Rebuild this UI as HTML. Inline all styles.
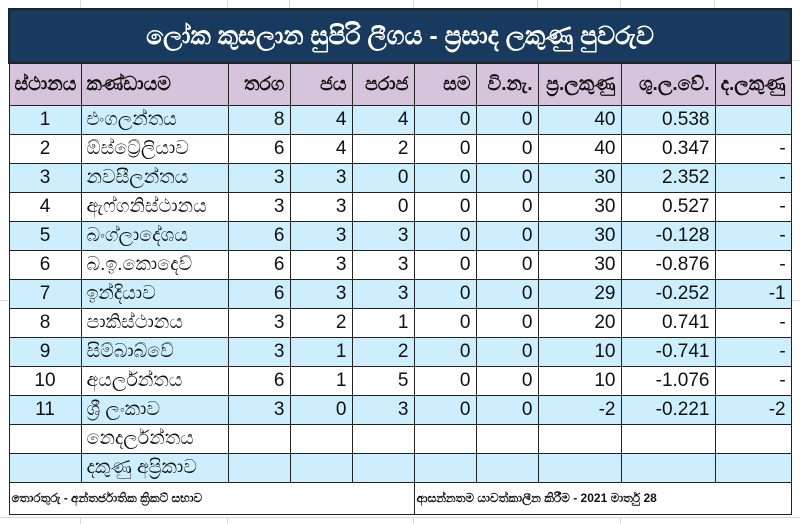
<!DOCTYPE html>
<html><head><meta charset="utf-8"><style>
body{margin:0;width:800px;height:524px;background:#fff;position:relative;overflow:hidden;font-family:"Liberation Sans",sans-serif;}
.g{position:absolute;background:#d9d9d9;}
table{position:absolute;left:8px;top:8px;width:782px;border-collapse:collapse;table-layout:fixed;}
td{border:1px solid #222;padding:0 5px;font-size:19px;color:#111;white-space:nowrap;overflow:hidden;height:28px;}
.t td{background:#183a5e;color:#fff;text-align:center;font-weight:bold;font-size:25px;height:52px;border:2px solid #222;}
.h td{background:#d6c4dc;height:41px;text-align:right;font-weight:bold;}
.b td{background:#cdeefc;}
td.c{text-align:center}
td.r{text-align:right}
td.l{text-align:left}
.f td{height:31px;font-size:12px;font-weight:bold;padding-left:2px;}
</style></head><body>
<div class="g" style="left:80px;top:0;width:1px;height:8px"></div>
<div class="g" style="left:227px;top:0;width:1px;height:8px"></div>
<div class="g" style="left:289px;top:0;width:1px;height:8px"></div>
<div class="g" style="left:413px;top:0;width:1px;height:8px"></div>
<div class="g" style="left:537px;top:0;width:1px;height:8px"></div>
<div class="g" style="left:620px;top:0;width:1px;height:8px"></div>
<div class="g" style="left:714px;top:0;width:1px;height:8px"></div>
<div class="g" style="left:0;top:517px;width:800px;height:1px"></div>
<div class="g" style="left:80px;top:517px;width:1px;height:7px"></div>
<div class="g" style="left:227px;top:517px;width:1px;height:7px"></div>
<div class="g" style="left:413px;top:517px;width:1px;height:7px"></div>
<div class="g" style="left:620px;top:517px;width:1px;height:7px"></div>
<div class="g" style="left:790px;top:60px;width:10px;height:1px"></div>
<div class="g" style="left:790px;top:300px;width:10px;height:1px"></div>
<div class="g" style="left:0;top:300px;width:8px;height:1px"></div>
<table>
<colgroup><col style="width:72px"><col style="width:147px"><col style="width:62px"><col style="width:62px"><col style="width:62px"><col style="width:62px"><col style="width:62px"><col style="width:83px"><col style="width:94px"><col style="width:76px"></colgroup>
<tr class="t"><td colspan="10">ලෝක කුසලාන සුපිරි ලීගය - ප්‍රසාද ලකුණු පුවරුව</td></tr>
<tr class="h"><td class="c">ස්ථානය</td><td class="l">කණ්ඩායම</td><td>තරග</td><td>ජය</td><td>පරාජ</td><td>සම</td><td>වි.නැ.</td><td>ප්‍ර.ලකුණු</td><td>ශු.ල.වේ.</td><td class="c">ද.ලකුණු</td></tr>
<tr class="b"><td class="c">1</td><td>එංගලන්තය</td><td class="r">8</td><td class="r">4</td><td class="r">4</td><td class="r">0</td><td class="r">0</td><td class="r">40</td><td class="r">0.538</td><td class="c"></td></tr>
<tr><td class="c">2</td><td>ඕස්ට්‍රේලියාව</td><td class="r">6</td><td class="r">4</td><td class="r">2</td><td class="r">0</td><td class="r">0</td><td class="r">40</td><td class="r">0.347</td><td class="r">-</td></tr>
<tr class="b"><td class="c">3</td><td>නවසීලන්තය</td><td class="r">3</td><td class="r">3</td><td class="r">0</td><td class="r">0</td><td class="r">0</td><td class="r">30</td><td class="r">2.352</td><td class="r">-</td></tr>
<tr><td class="c">4</td><td>ඇෆ්ගනිස්ථානය</td><td class="r">3</td><td class="r">3</td><td class="r">0</td><td class="r">0</td><td class="r">0</td><td class="r">30</td><td class="r">0.527</td><td class="r">-</td></tr>
<tr class="b"><td class="c">5</td><td>බංග්ලාදේශය</td><td class="r">6</td><td class="r">3</td><td class="r">3</td><td class="r">0</td><td class="r">0</td><td class="r">30</td><td class="r">-0.128</td><td class="r">-</td></tr>
<tr><td class="c">6</td><td>බ.ඉ.කොදෙව්</td><td class="r">6</td><td class="r">3</td><td class="r">3</td><td class="r">0</td><td class="r">0</td><td class="r">30</td><td class="r">-0.876</td><td class="r">-</td></tr>
<tr class="b"><td class="c">7</td><td>ඉන්දියාව</td><td class="r">6</td><td class="r">3</td><td class="r">3</td><td class="r">0</td><td class="r">0</td><td class="r">29</td><td class="r">-0.252</td><td class="r">-1</td></tr>
<tr><td class="c">8</td><td>පාකිස්ථානය</td><td class="r">3</td><td class="r">2</td><td class="r">1</td><td class="r">0</td><td class="r">0</td><td class="r">20</td><td class="r">0.741</td><td class="r">-</td></tr>
<tr class="b"><td class="c">9</td><td>සිම්බාබ්වේ</td><td class="r">3</td><td class="r">1</td><td class="r">2</td><td class="r">0</td><td class="r">0</td><td class="r">10</td><td class="r">-0.741</td><td class="r">-</td></tr>
<tr><td class="c">10</td><td>අයර්ලන්තය</td><td class="r">6</td><td class="r">1</td><td class="r">5</td><td class="r">0</td><td class="r">0</td><td class="r">10</td><td class="r">-1.076</td><td class="r">-</td></tr>
<tr class="b"><td class="c">11</td><td>ශ්‍රී ලංකාව</td><td class="r">3</td><td class="r">0</td><td class="r">3</td><td class="r">0</td><td class="r">0</td><td class="r">-2</td><td class="r">-0.221</td><td class="r">-2</td></tr>
<tr><td></td><td>නෙදර්ලන්තය</td><td></td><td></td><td></td><td></td><td></td><td></td><td></td><td></td></tr>
<tr class="b"><td></td><td>දකුණු අප්‍රිකාව</td><td></td><td></td><td></td><td></td><td></td><td></td><td></td><td></td></tr>
<tr class="f"><td colspan="5">තොරතුරු - අන්තර්ජාතික ක්‍රිකට් සභාව</td><td colspan="5">ආසන්නතම යාවත්කාලීන කිරීම - 2021 මාර්තු 28</td></tr>
</table>
</body></html>
